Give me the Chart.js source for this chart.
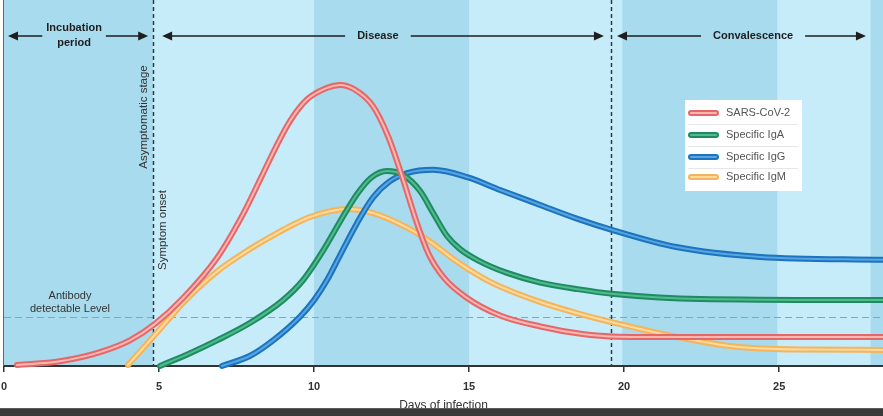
<!DOCTYPE html>
<html>
<head>
<meta charset="utf-8">
<script src="https://cdn.jsdelivr.net/npm/chart.js@4.4.1/dist/chart.umd.min.js"></script>
<style>
html, body { margin: 0; padding: 0; background: #fff; }
</style>
</head>
<body>
<canvas id="myChart" width="883" height="416"></canvas>
<script>
// series (day of infection, relative level 0-100)
const seriesNames = ['SARS-CoV-2', 'Specific IgA', 'Specific IgG', 'Specific IgM'];

const sarsDays  = [0.42, 1.8, 3.1, 4.06, 4.87, 5.77, 6.87, 7.71, 8.35, 8.81, 9.23, 9.77, 10.42, 10.84, 11.3, 11.9, 12.4, 12.87, 13.3, 13.7, 14.2, 14.9, 16.0, 17.3, 18.6, 19.8, 22.0, 28.35];
const sarsLevel = [0.3, 1.3, 3.8, 7.0, 11.5, 18.5, 29.5, 41.5, 52.5, 60.5, 67.0, 72.8, 76.0, 76.8, 75.6, 71.0, 62.5, 51.0, 39.5, 30.5, 24.0, 18.8, 13.8, 10.8, 8.8, 8.0, 7.9, 7.9];

const igaDays  = [5.03, 6.0, 6.87, 7.94, 9.0, 9.65, 10.29, 10.84, 11.39, 11.85, 12.35, 12.87, 13.42, 13.84, 14.29, 14.7, 15.3, 16.2, 17.29, 18.5, 19.68, 22.45, 28.35];
const igaLevel = [0, 3.5, 7.0, 11.8, 18.0, 23.5, 31.5, 39.5, 47.0, 51.5, 53.3, 52.2, 47.8, 41.8, 35.5, 32.0, 28.8, 25.5, 22.8, 21.0, 19.7, 18.3, 18.0];

const iggDays  = [7.03, 7.94, 8.68, 9.55, 10.0, 10.42, 10.84, 11.39, 11.9, 12.45, 13.0, 13.84, 14.94, 16.0, 17.29, 18.5, 19.68, 21.68, 24.39, 28.35];
const iggLevel = [0, 2.8, 7.0, 13.5, 18.0, 23.5, 30.3, 39.1, 46.0, 50.5, 52.7, 53.6, 51.6, 48.1, 44.0, 40.2, 37.0, 32.5, 29.8, 29.0];

const igmDays  = [4.0, 4.71, 5.35, 5.77, 6.87, 7.94, 8.81, 9.32, 9.87, 10.52, 11.06, 11.9, 13.0, 13.74, 14.61, 15.68, 17.29, 18.58, 19.84, 21.68, 23.48, 25.68, 28.35];
const igmLevel = [0.3, 7.0, 13.2, 17.2, 25.8, 32.0, 36.3, 38.6, 40.7, 42.3, 42.9, 41.8, 37.8, 34.0, 28.5, 23.0, 17.5, 14.2, 11.5, 8.0, 5.4, 4.5, 4.4];

// darker shaded day ranges
const bandStart = [0, 10, 19.94, 27.95];
const bandEnd   = [4.8, 15, 24.94, 28.5];

// phases shown across the top
const phaseNames    = [['Incubation', 'period'], ['Disease'], ['Convalescence']];
const phaseFrom     = [0.13, 5.1, 19.77];
const phaseTo       = [4.65, 19.35, 27.8];
const phaseLabelDay = [2.26, 12.06, 24.16];

const markerDays = [4.8, 19.58];     // symptom onset, end of disease
const detectableLevel = 13.4;
const xTicks = [0, 5, 10, 15, 20, 25];

const outerColors = ['#e5676a', '#1e8b62', '#1d73bd', '#f4b45c'];
const innerColors = ['#f9b8b1', '#52bb8d', '#55a6e3', '#fdda9e'];

const FONT = '"Liberation Sans", Arial, sans-serif';

function toPoints (days, levels) {
    return days.map((d, i) => ({ x: d, y: levels[i] }));
}

const allSeries = [
    toPoints(sarsDays, sarsLevel),
    toPoints(igaDays, igaLevel),
    toPoints(iggDays, iggLevel),
    toPoints(igmDays, igmLevel)
];

// lower order is painted last, so the virus curve sits on top
const datasets = [];
allSeries.forEach((pts, i) => {
    datasets.push({
        label: seriesNames[i],
        data: pts,
        borderColor: outerColors[i],
        borderWidth: 6,
        borderCapStyle: 'round',
        pointRadius: 0,
        cubicInterpolationMode: 'monotone',
        clip: 6,
        order: 2 * i + 1
    });
    datasets.push({
        label: seriesNames[i] + ' highlight',
        data: pts,
        borderColor: innerColors[i],
        borderWidth: 2,
        borderCapStyle: 'round',
        pointRadius: 0,
        cubicInterpolationMode: 'monotone',
        clip: 6,
        order: 2 * i
    });
});

function arrowHead (ctx, x, y, dir) {
    ctx.beginPath();
    ctx.moveTo(x, y);
    ctx.lineTo(x - dir * 10, y - 4.5);
    ctx.lineTo(x - dir * 10, y + 4.5);
    ctx.closePath();
    ctx.fill();
}

const decorPlugin = {
    id: 'decor',
    beforeDraw (chart) {
        const { ctx, chartArea: a, scales: { x } } = chart;
        ctx.save();
        ctx.fillStyle = '#c6ecfa';
        ctx.fillRect(a.left, a.top, a.right - a.left, a.bottom - a.top);
        ctx.fillStyle = '#a8dbed';
        bandStart.forEach((s, i) => {
            const x1 = x.getPixelForValue(s);
            const x2 = Math.min(x.getPixelForValue(bandEnd[i]), a.right);
            ctx.fillRect(x1, a.top, x2 - x1, a.bottom - a.top);
        });
        ctx.restore();
    },
    beforeDatasetsDraw (chart) {
        const { ctx, chartArea: a, scales: { x, y } } = chart;
        ctx.save();
        // left edge
        ctx.strokeStyle = '#666';
        ctx.lineWidth = 1;
        ctx.beginPath();
        ctx.moveTo(a.left - 0.5, a.top);
        ctx.lineTo(a.left - 0.5, a.bottom);
        ctx.stroke();

        // antibody detectable level
        const yl = Math.round(y.getPixelForValue(detectableLevel)) + 0.5;
        ctx.strokeStyle = '#8fa3ac';
        ctx.lineWidth = 1.2;
        ctx.setLineDash([7, 4]);
        ctx.beginPath();
        ctx.moveTo(a.left, yl);
        ctx.lineTo(a.right, yl);
        ctx.stroke();

        // phase markers
        ctx.strokeStyle = '#2e3a40';
        ctx.lineWidth = 1.5;
        ctx.setLineDash([4, 3]);
        markerDays.forEach(d => {
            const xp = Math.round(x.getPixelForValue(d)) + 0.5;
            ctx.beginPath();
            ctx.moveTo(xp, a.top);
            ctx.lineTo(xp, a.bottom);
            ctx.stroke();
        });
        ctx.setLineDash([]);

        // side notes
        ctx.fillStyle = '#333';
        ctx.font = '11px ' + FONT;
        ctx.textAlign = 'center';
        ctx.textBaseline = 'middle';
        ctx.fillText('Antibody', 70, yl - 22);
        ctx.fillText('detectable Level', 70, yl - 9);

        ctx.font = '11.5px ' + FONT;
        const xm = x.getPixelForValue(markerDays[0]);
        ctx.save();
        ctx.translate(xm - 9, 117);
        ctx.rotate(-Math.PI / 2);
        ctx.fillText('Asymptomatic stage', 0, 0);
        ctx.restore();
        ctx.save();
        ctx.translate(xm + 10, 230);
        ctx.rotate(-Math.PI / 2);
        ctx.fillText('Symptom onset', 0, 0);
        ctx.restore();
        ctx.restore();
    },
    afterDraw (chart) {
        const { ctx, scales: { x } } = chart;
        ctx.save();

        // phase arrows
        const ya = 36;
        ctx.font = 'bold 11px ' + FONT;
        ctx.textAlign = 'center';
        ctx.textBaseline = 'middle';
        ctx.strokeStyle = '#1e1e1e';
        ctx.fillStyle = '#1e1e1e';
        ctx.lineWidth = 1.6;
        phaseNames.forEach((lines, i) => {
            const x1 = x.getPixelForValue(phaseFrom[i]);
            const x2 = x.getPixelForValue(phaseTo[i]);
            const xc = x.getPixelForValue(phaseLabelDay[i]);
            const w = Math.max(...lines.map(t => ctx.measureText(t).width));
            const gap = lines.length > 1 ? 4 : 12;
            ctx.beginPath();
            ctx.moveTo(x1 + 4, ya);
            ctx.lineTo(xc - w / 2 - gap, ya);
            ctx.moveTo(xc + w / 2 + gap, ya);
            ctx.lineTo(x2 - 4, ya);
            ctx.stroke();
            arrowHead(ctx, x1, ya, -1);
            arrowHead(ctx, x2, ya, 1);
            if (lines.length > 1) {
                ctx.fillText(lines[0], xc, ya - 8);
                ctx.fillText(lines[1], xc, ya + 7);
            } else {
                ctx.fillText(lines[0], xc, ya);
            }
        });

        // legend box
        const lx = 685, ly = 100, lw = 117, lh = 91;
        ctx.fillStyle = '#ffffff';
        ctx.fillRect(lx, ly, lw, lh);
        ctx.font = '11px ' + FONT;
        ctx.textAlign = 'left';
        const rowY = [113, 135, 157, 177];
        seriesNames.forEach((name, i) => {
            const ry = rowY[i];
            ctx.lineCap = 'round';
            ctx.strokeStyle = outerColors[i];
            ctx.lineWidth = 6;
            ctx.beginPath();
            ctx.moveTo(691, ry);
            ctx.lineTo(716, ry);
            ctx.stroke();
            ctx.strokeStyle = innerColors[i];
            ctx.lineWidth = 2;
            ctx.beginPath();
            ctx.moveTo(691, ry);
            ctx.lineTo(716, ry);
            ctx.stroke();
            ctx.fillStyle = '#555';
            ctx.fillText(name, 726, ry);
            if (i < seriesNames.length - 1) {
                ctx.strokeStyle = '#e4e8ea';
                ctx.lineWidth = 1;
                ctx.lineCap = 'butt';
                ctx.beginPath();
                ctx.moveTo(688, ry + 11.5);
                ctx.lineTo(798, ry + 11.5);
                ctx.stroke();
            }
        });

        // dark strip under the picture
        ctx.fillStyle = '#3a3a3a';
        ctx.fillRect(0, 408, chart.width, chart.height - 408);
        ctx.fillStyle = '#5a5a5a';
        ctx.fillRect(0, 408, chart.width, 1);
        ctx.restore();
    }
};

new Chart(document.getElementById('myChart'), {
    type: 'line',
    data: { datasets },
    options: {
        responsive: false,
        animation: false,
        layout: { padding: { left: 0, right: 0, top: 0, bottom: 0 } },
        plugins: {
            legend: { display: false },
            tooltip: { enabled: false }
        },
        scales: {
            x: {
                type: 'linear',
                min: 0,
                max: 28.35,
                afterBuildTicks: axis => { axis.ticks = xTicks.map(v => ({ value: v })); },
                afterFit: axis => { axis.height = 50; axis.paddingLeft = 4; axis.paddingRight = 0; },
                border: { display: true, color: '#333', width: 2 },
                grid: { drawOnChartArea: false, drawTicks: true, tickLength: 6, color: '#333', lineWidth: 1.5 },
                ticks: {
                    padding: 8,
                    color: '#333',
                    font: { family: FONT, size: 11, weight: 'bold' }
                },
                title: {
                    display: true,
                    text: 'Days of infection',
                    color: '#333',
                    font: { family: FONT, size: 12 },
                    padding: { top: 0, bottom: 3 }
                }
            },
            y: {
                display: false,
                min: 0,
                max: 100
            }
        }
    },
    plugins: [decorPlugin]
});
</script>
</body>
</html>
